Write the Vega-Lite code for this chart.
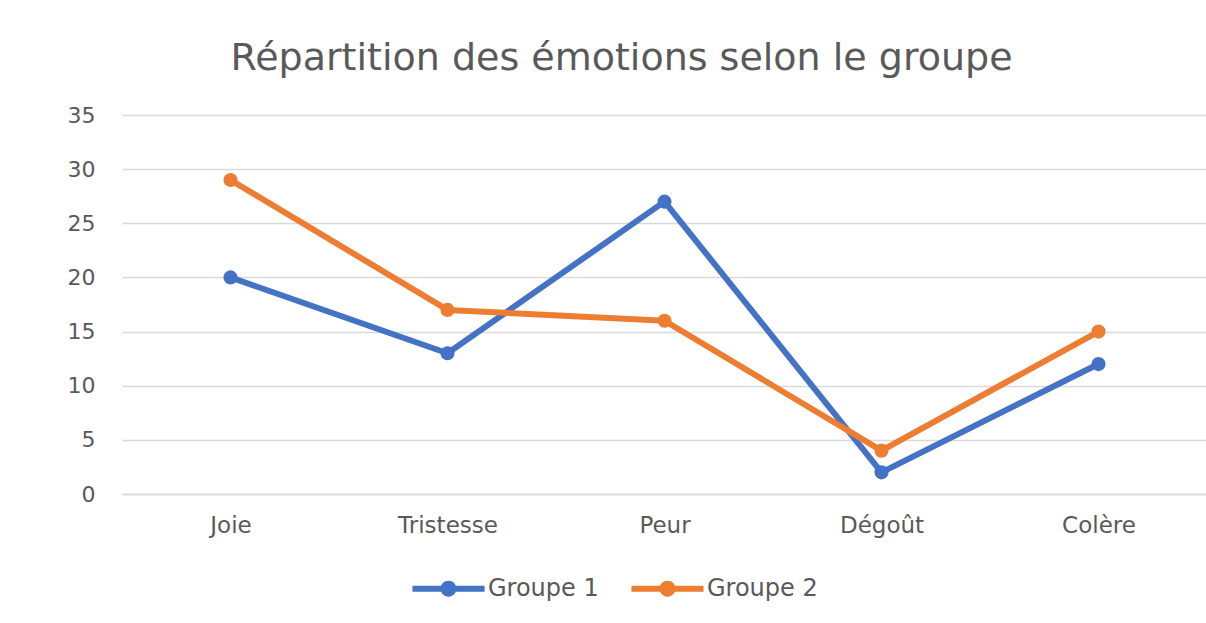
{
  "$schema": "https://vega.github.io/schema/vega-lite/v6.json",
  "autosize": "none",
  "width": 1085,
  "height": 379,
  "padding": {"left": 122, "top": 115, "right": 0, "bottom": 129},
  "background": "white",
  "title": {
    "text": "Répartition des émotions selon le groupe",
    "font": "DejaVu Sans",
    "fontSize": 38,
    "fontWeight": "normal",
    "color": "#595959",
    "anchor": "middle",
    "frame": "group",
    "dx": -43,
    "offset": 26
  },
  "data": {
    "values": [
      {"emotion": "Joie", "groupe": "Groupe 1", "valeur": 20},
      {"emotion": "Tristesse", "groupe": "Groupe 1", "valeur": 13},
      {"emotion": "Peur", "groupe": "Groupe 1", "valeur": 27},
      {"emotion": "Dégoût", "groupe": "Groupe 1", "valeur": 2},
      {"emotion": "Colère", "groupe": "Groupe 1", "valeur": 12},
      {"emotion": "Joie", "groupe": "Groupe 2", "valeur": 29},
      {"emotion": "Tristesse", "groupe": "Groupe 2", "valeur": 17},
      {"emotion": "Peur", "groupe": "Groupe 2", "valeur": 16},
      {"emotion": "Dégoût", "groupe": "Groupe 2", "valeur": 4},
      {"emotion": "Colère", "groupe": "Groupe 2", "valeur": 15}
    ]
  },
  "encoding": {
    "x": {
      "field": "emotion",
      "type": "nominal",
      "sort": ["Joie", "Tristesse", "Peur", "Dégoût", "Colère"],
      "scale": {"type": "point", "padding": 0.5},
      "axis": {
        "title": null,
        "labelAngle": 0,
        "labelFont": "DejaVu Sans",
        "labelFontSize": 23,
        "labelColor": "#595959",
        "labelPadding": 20,
        "ticks": false,
        "domain": true,
        "domainColor": "#D9D9D9",
        "domainWidth": 1.5,
        "grid": false
      }
    },
    "y": {
      "field": "valeur",
      "type": "quantitative",
      "scale": {"domain": [0, 35], "nice": false},
      "axis": {
        "title": null,
        "values": [0, 5, 10, 15, 20, 25, 30, 35],
        "labelFont": "DejaVu Sans",
        "labelFontSize": 22,
        "labelColor": "#595959",
        "labelPadding": 27,
        "ticks": false,
        "domain": false,
        "grid": true,
        "gridColor": "#D9D9D9",
        "gridWidth": 1.5
      }
    },
    "color": {
      "field": "groupe",
      "type": "nominal",
      "scale": {"domain": ["Groupe 1", "Groupe 2"], "range": ["#4472C4", "#ED7D31"]},
      "legend": {
        "title": null,
        "orient": "none",
        "direction": "horizontal",
        "legendX": 290,
        "legendY": 437,
        "symbolType": "M-1,-0.08H1V0.08H-1Z M-0.22,0 a0.22,0.22 0 1,1 0.44,0 a0.22,0.22 0 1,1 -0.44,0",
        "symbolSize": 5200,
        "symbolStrokeWidth": 0,
        "symbolOpacity": 1,
        "labelFont": "DejaVu Sans",
        "labelFontSize": 24,
        "labelColor": "#595959",
        "labelOffset": 3,
        "columnPadding": 32,
        "encode": {
          "symbols": {"update": {"fill": {"scale": "color", "field": "value"}, "strokeWidth": {"value": 0}}}
        }
      }
    }
  },
  "layer": [
    {"mark": {"type": "line", "strokeWidth": 6, "strokeCap": "round", "strokeJoin": "round"}},
    {"mark": {"type": "point", "filled": true, "size": 200, "opacity": 1}}
  ],
  "config": {"view": {"stroke": null}}
}
